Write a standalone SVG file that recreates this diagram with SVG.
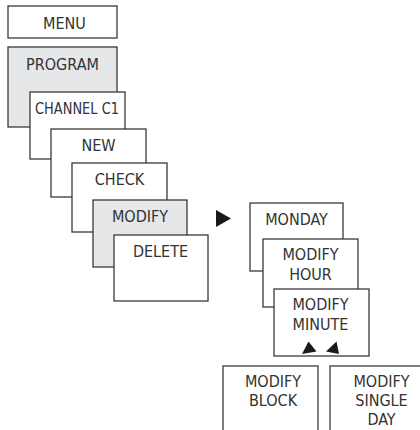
<svg xmlns="http://www.w3.org/2000/svg" width="420" height="430" viewBox="0 0 420 430">
<style>
.b{fill:#ffffff;stroke:#3a3a3a;stroke-width:1.3}
.g{fill:#e6e7e8;stroke:#3a3a3a;stroke-width:1.3}
text{font-family:"DejaVu Sans Condensed","DejaVu Sans","Liberation Sans",sans-serif;font-stretch:condensed;font-size:16px;fill:#333333;text-anchor:middle}
.a{fill:#1a1a1a}
</style>
<rect width="420" height="430" fill="#ffffff"/>
<g id="menu"><rect class="b" x="8" y="6" width="109" height="32"/><text x="64.5" y="28.5">MENU</text></g>
<g id="program"><rect class="g" x="8" y="47" width="109" height="80"/><text x="62.5" y="69.5">PROGRAM</text></g>
<g id="channel-c1"><rect class="b" x="30" y="92" width="95" height="67"/><text x="77" y="113.5" textLength="84" lengthAdjust="spacingAndGlyphs">CHANNEL C1</text></g>
<g id="new"><rect class="b" x="51" y="129" width="95" height="68"/><text x="98.5" y="151">NEW</text></g>
<g id="check"><rect class="b" x="72" y="163" width="95" height="69"/><text x="119.5" y="184.5">CHECK</text></g>
<g id="modify"><rect class="g" x="93" y="200" width="94" height="67"/><text x="140" y="221.5">MODIFY</text></g>
<g id="delete"><rect class="b" x="114" y="235" width="94" height="66"/><text x="160.5" y="256.5">DELETE</text></g>
<g id="monday"><rect class="b" x="250" y="203" width="93" height="68"/><text x="296.5" y="224.5">MONDAY</text></g>
<g id="modify-hour"><rect class="b" x="263" y="239" width="95" height="68"/><text x="310.5" y="260">MODIFY</text><text x="310.5" y="280">HOUR</text></g>
<g id="modify-minute"><rect class="b" x="274" y="289" width="95" height="67"/><text x="320.5" y="310">MODIFY</text><text x="320.5" y="330">MINUTE</text></g>
<g id="modify-block"><rect class="b" x="223" y="366" width="95" height="70"/><text x="273" y="386.5">MODIFY</text><text x="273" y="406">BLOCK</text></g>
<g id="modify-single-day"><rect class="b" x="330" y="366" width="100" height="70"/><text x="381.5" y="386.5">MODIFY</text><text x="381.5" y="406">SINGLE</text><text x="381.5" y="424.5">DAY</text></g>
<g id="connectors">
<polygon class="a" points="216,210 216,227 231,218.5"/>
<polygon class="a" points="302,354 308.5,341.5 316.5,351.5"/>
<polygon class="a" points="326,351.5 336.5,341.5 339,354"/>
</g>
</svg>
